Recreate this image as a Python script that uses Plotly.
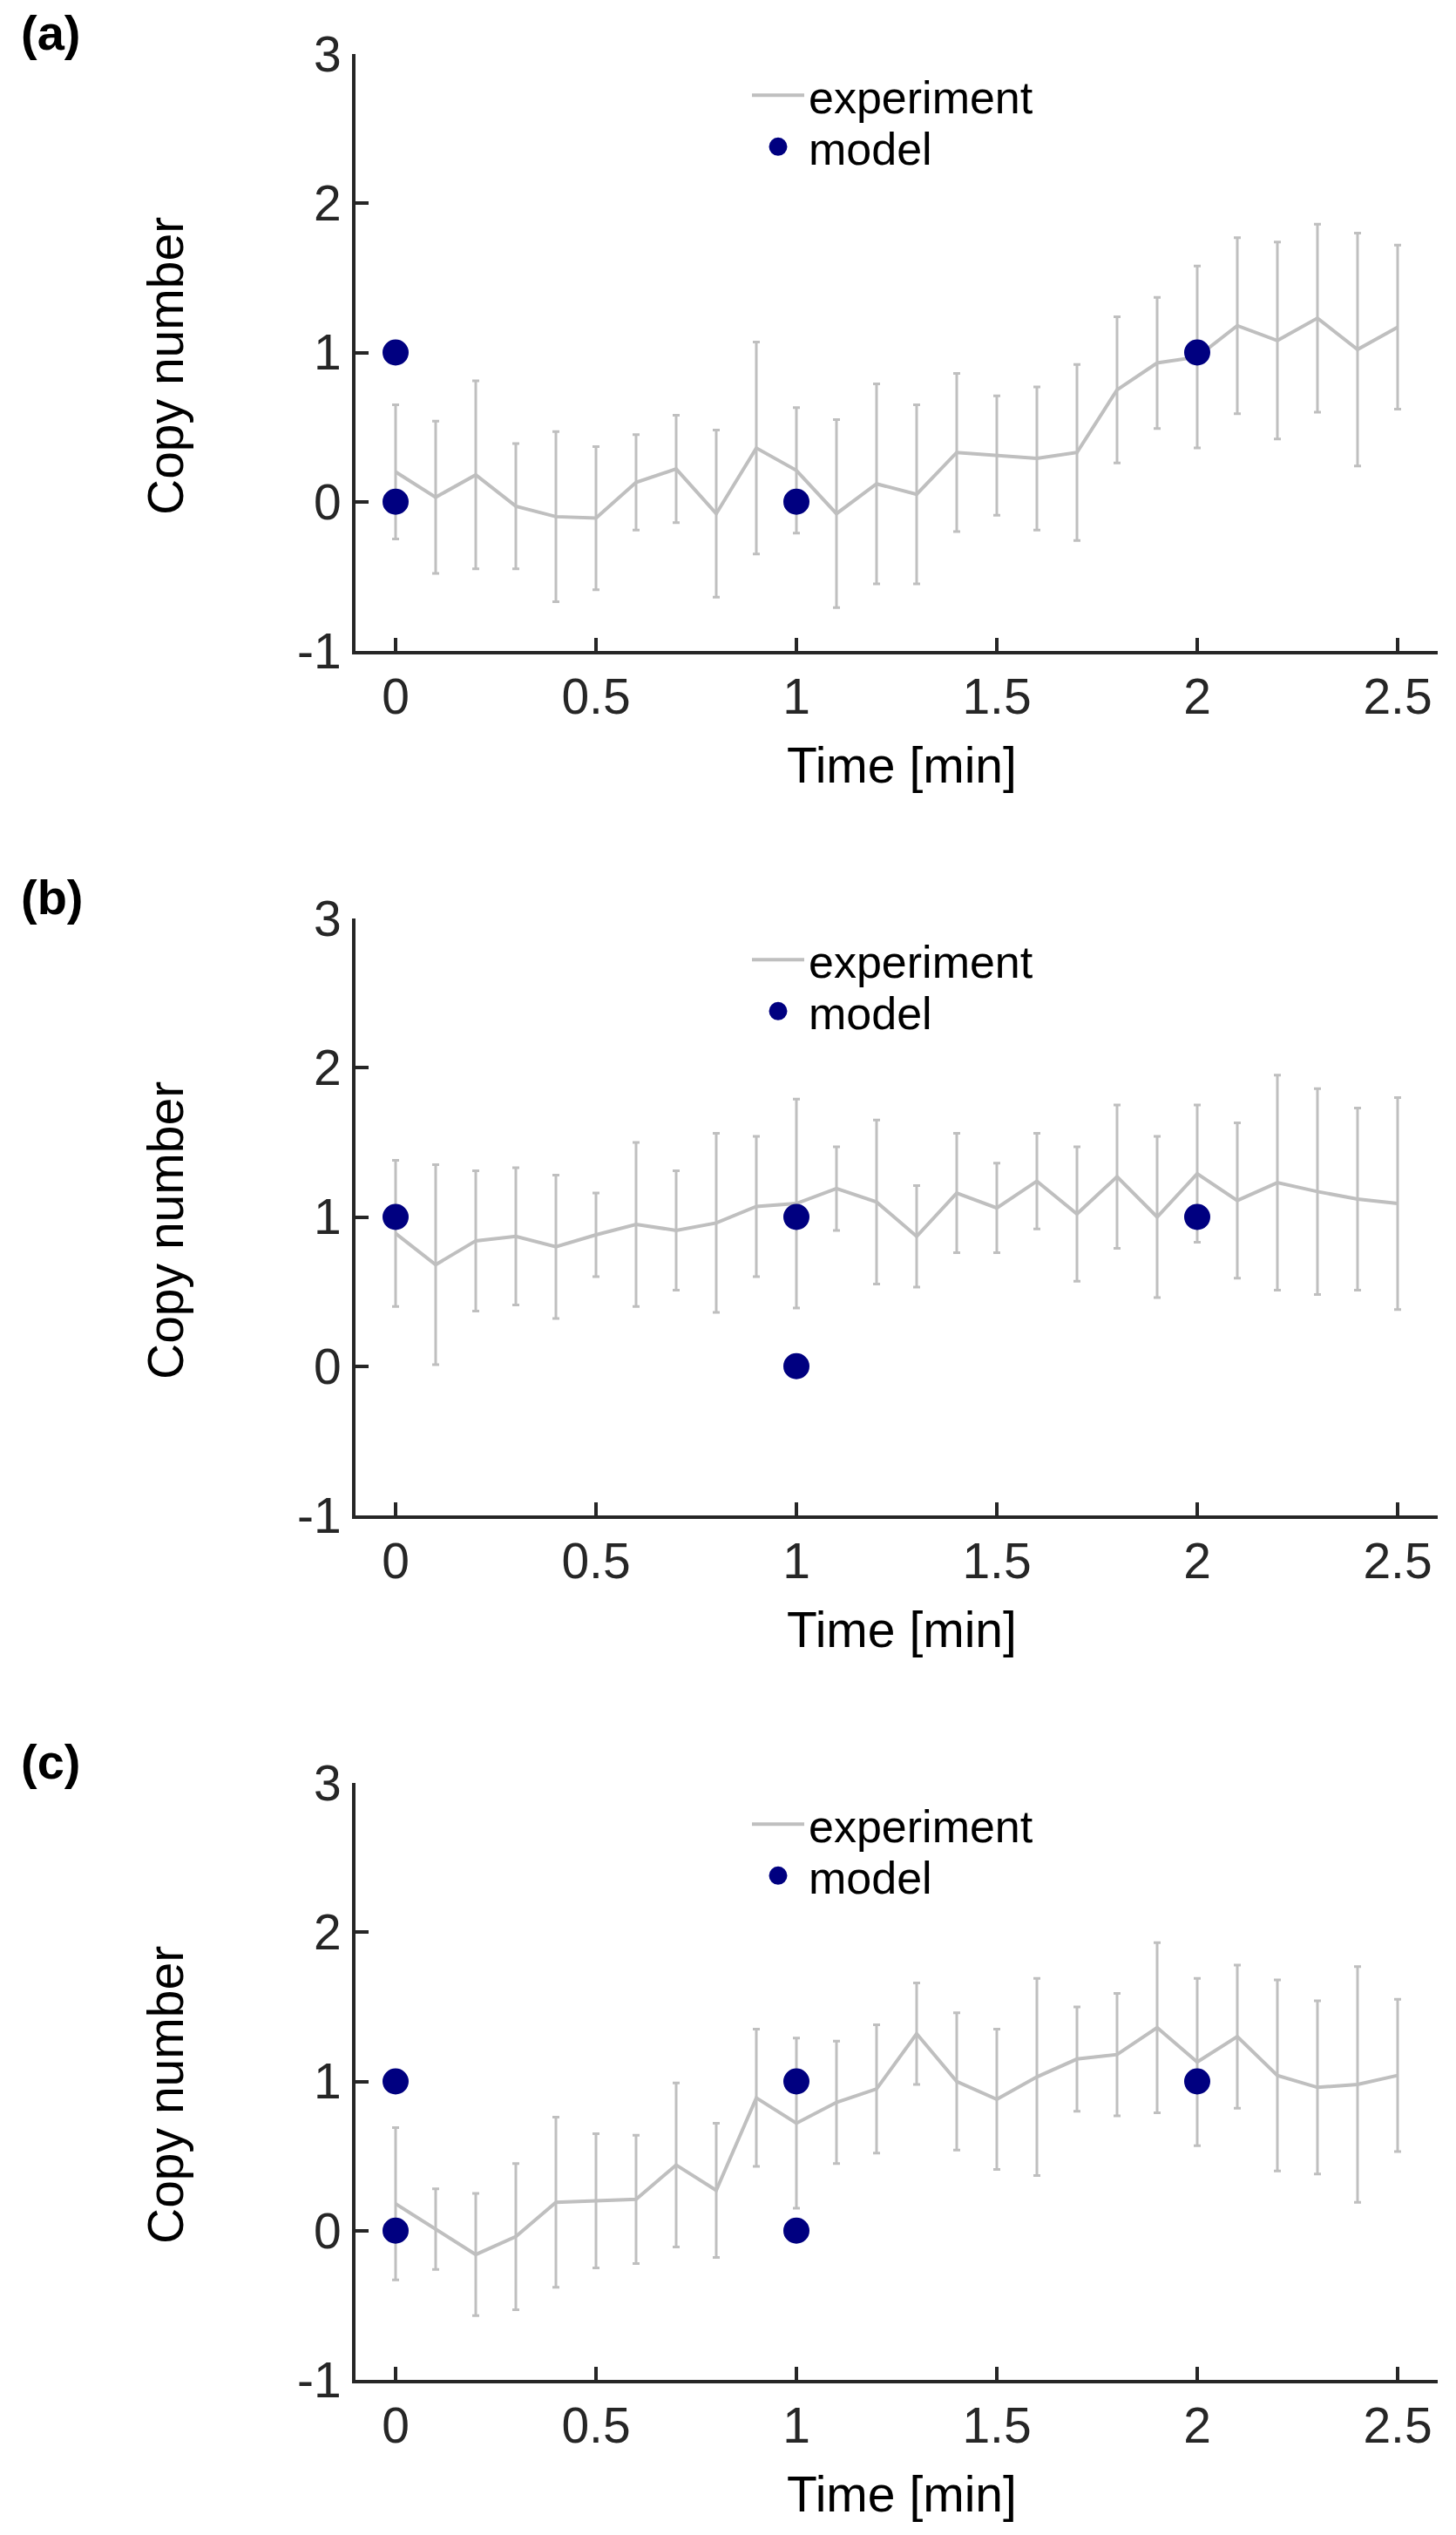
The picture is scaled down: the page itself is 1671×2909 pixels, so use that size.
import plotly.graph_objects as go

W, H = 1671, 2909

time = [0.0, 0.1, 0.2, 0.3, 0.4, 0.5, 0.6, 0.7, 0.8, 0.9, 1.0, 1.1, 1.2,
        1.3, 1.4, 1.5, 1.6, 1.7, 1.8, 1.9, 2.0, 2.1, 2.2, 2.3, 2.4, 2.5]

exp_mean_a = [0.20, 0.03, 0.18, -0.03, -0.10, -0.11, 0.13, 0.22, -0.08, 0.36, 0.21, -0.08, 0.12,
              0.05, 0.33, 0.31, 0.29, 0.33, 0.75, 0.93, 0.97, 1.18, 1.08, 1.23, 1.02, 1.17]
exp_err_a = [0.45, 0.51, 0.63, 0.42, 0.57, 0.48, 0.32, 0.36, 0.56, 0.71, 0.42, 0.63, 0.67,
             0.60, 0.53, 0.40, 0.48, 0.59, 0.49, 0.44, 0.61, 0.59, 0.66, 0.63, 0.78, 0.55]
model_t_a = [0, 0, 1, 2]
model_n_a = [1, 0, 0, 1]

exp_mean_b = [0.89, 0.68, 0.84, 0.87, 0.80, 0.88, 0.95, 0.91, 0.96, 1.07, 1.09, 1.19, 1.10,
              0.87, 1.16, 1.06, 1.24, 1.02, 1.27, 1.00, 1.29, 1.11, 1.23, 1.17, 1.12, 1.09]
exp_err_b = [0.49, 0.67, 0.47, 0.46, 0.48, 0.28, 0.55, 0.40, 0.60, 0.47, 0.70, 0.28, 0.55,
             0.34, 0.40, 0.30, 0.32, 0.45, 0.48, 0.54, 0.46, 0.52, 0.72, 0.69, 0.61, 0.71]
model_t_b = [0, 1, 1, 2]
model_n_b = [1, 1, 0, 1]

exp_mean_c = [0.18, 0.01, -0.16, -0.04, 0.19, 0.20, 0.21, 0.44, 0.27, 0.89, 0.72, 0.86, 0.95,
              1.32, 1.00, 0.88, 1.03, 1.15, 1.18, 1.36, 1.13, 1.30, 1.04, 0.96, 0.98, 1.04]
exp_err_c = [0.51, 0.27, 0.41, 0.49, 0.57, 0.45, 0.43, 0.55, 0.45, 0.46, 0.57, 0.41, 0.43,
             0.34, 0.46, 0.47, 0.66, 0.35, 0.41, 0.57, 0.56, 0.48, 0.64, 0.58, 0.79, 0.51]
model_t_c = [0, 0, 1, 1, 2]
model_n_c = [1, 0, 1, 0, 1]

panel_labels = ["(a)", "(b)", "(c)"]
x_ticks = [0, 0.5, 1, 1.5, 2, 2.5]
x_tick_text = ["0", "0.5", "1", "1.5", "2", "2.5"]
y_ticks = [-1, 0, 1, 2, 3]
y_tick_text = ["-1", "0", "1", "2", "3"]
x_title = "Time [min]"
y_title = "Copy number"
legend_names = ["experiment", "model"]

panels = [
    (exp_mean_a, exp_err_a, model_t_a, model_n_a),
    (exp_mean_b, exp_err_b, model_t_b, model_n_b),
    (exp_mean_c, exp_err_c, model_t_c, model_n_c),
]

GRAY = "#bfbfbf"
NAVY = "#000080"
AX = "#262626"
FONT = "Liberation Sans, Arial, Helvetica, sans-serif"

# pixel geometry (from top of page)
plot_left, plot_right = 408, 1650
panel_top0, panel_bottom0 = 62, 747
step = 992

def py(y):
    return 1 - y / H

def px(x):
    return x / W

fig = go.Figure()
layout = dict(
    width=W, height=H,
    margin=dict(l=0, r=0, t=0, b=0, autoexpand=False),
    paper_bgcolor="white", plot_bgcolor="white",
    font=dict(family=FONT, size=56, color=AX),
    showlegend=True,
    annotations=[],
)

def legend_key(n):
    return "legend" if n == 1 else "legend" + str(n)

for i, (mean, err, mt, mn) in enumerate(panels):
    k = "" if i == 0 else str(i + 1)
    top = panel_top0 + i * step
    bot = panel_bottom0 + i * step
    leg_exp = legend_key(2 * i + 1)
    leg_mod = legend_key(2 * i + 2)
    fig.add_trace(go.Scatter(
        x=time, y=mean, mode="lines", name=legend_names[0],
        line=dict(color=GRAY, width=4),
        error_y=dict(type="data", array=err, visible=True, color=GRAY, thickness=3, width=4),
        xaxis="x" + k, yaxis="y" + k, legend=leg_exp, showlegend=True,
    ))
    fig.add_trace(go.Scatter(
        x=mt, y=mn, mode="markers", name=legend_names[1],
        marker=dict(color=NAVY, size=25, line=dict(width=5, color=NAVY)),
        xaxis="x" + k, yaxis="y" + k, legend=leg_mod, showlegend=True,
    ))
    layout["xaxis" + k] = dict(
        domain=[px(plot_left), px(plot_right)], range=[-0.1, 2.6],
        anchor="y" + k, showgrid=False, zeroline=False,
        showline=True, linecolor=AX, linewidth=4, mirror=False,
        ticks="inside", ticklen=15, tickwidth=4, tickcolor=AX,
        tickvals=x_ticks, ticktext=x_tick_text,
        tickfont=dict(family=FONT, size=57, color=AX),
        ticklabelstandoff=0,
    )
    layout["yaxis" + k] = dict(
        domain=[py(bot), py(top)], range=[-1, 3],
        anchor="x" + k, showgrid=False, zeroline=False,
        showline=True, linecolor=AX, linewidth=4, mirror=False,
        ticks="inside", ticklen=15, tickwidth=4, tickcolor=AX,
        tickvals=y_ticks, ticktext=y_tick_text,
        tickfont=dict(family=FONT, size=57, color=AX),
        ticklabelstandoff=1,
    )
    for leg, ytop in ((leg_exp, 69), (leg_mod, 128)):
        layout[leg] = dict(
            x=px(858), y=py(ytop + i * step), xanchor="left", yanchor="top",
            bgcolor="rgba(0,0,0,0)", borderwidth=0, visible=True,
            font=dict(family=FONT, size=52, color="black"),
            itemwidth=60, tracegroupgap=0,
        )
    layout["annotations"].append(dict(
        text="<b>" + panel_labels[i] + "</b>", x=px(22), y=py(37 + i * step),
        xref="paper", yref="paper", xanchor="left", yanchor="middle",
        showarrow=False, font=dict(family=FONT, size=56, color="black"),
    ))
    layout["annotations"].append(dict(
        text=x_title, x=px(1035), y=py(878 + i * step),
        xref="paper", yref="paper", xanchor="center", yanchor="middle",
        showarrow=False, font=dict(family=FONT, size=57, color="black"),
    ))
    layout["annotations"].append(dict(
        text=y_title, x=px(190), y=py(420 + i * step), textangle=-90,
        xref="paper", yref="paper", xanchor="center", yanchor="middle",
        showarrow=False, font=dict(family=FONT, size=57, color="black"),
    ))

fig.update_layout(**layout)
fig.write_html("out.html")
